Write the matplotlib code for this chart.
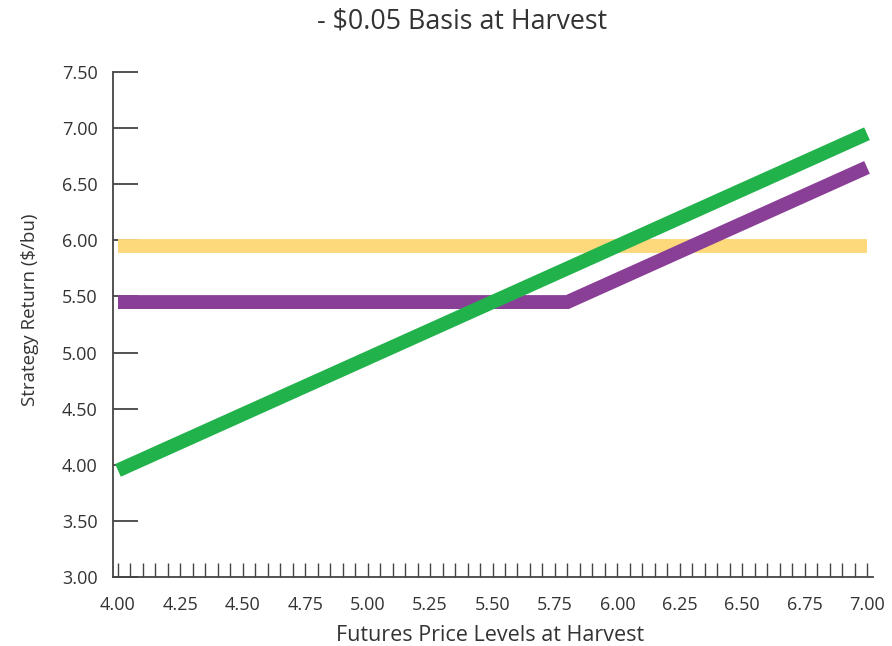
import matplotlib
matplotlib.use("Agg")
import matplotlib.pyplot as plt
from matplotlib.ticker import MultipleLocator

plt.rcParams['font.family'] = ['Open Sans', 'DejaVu Sans']

# Data
price = [4.00, 7.00]
green_vals = [3.95, 6.95]
purple_x = [4.00, 5.80, 7.00]
purple_vals = [5.45, 5.45, 6.65]
yellow_x = [4.00, 7.00]
yellow_vals = [5.95, 5.95]
xticks = [4.00, 4.25, 4.50, 4.75, 5.00, 5.25, 5.50, 5.75, 6.00, 6.25, 6.50, 6.75, 7.00]
yticks = [3.00, 3.50, 4.00, 4.50, 5.00, 5.50, 6.00, 6.50, 7.00, 7.50]

W, H = 892, 646
fig = plt.figure(figsize=(W / 100, H / 100), dpi=100)
left, right, top, bottom = 113, 873, 72, 577
ax = fig.add_axes([left / W, (H - bottom) / H, (right - left) / W, (bottom - top) / H])

ax.plot(yellow_x, yellow_vals, color='#fdd97c', lw=10, solid_capstyle='butt', zorder=2)
ax.plot(purple_x, purple_vals, color='#8a3f97', lw=10, solid_capstyle='butt', solid_joinstyle='miter', zorder=3)
ax.plot(price, green_vals, color='#22b24c', lw=10, solid_capstyle='butt', zorder=4)

ax.set_xlim(3.98, 7.024)
ax.set_ylim(3.0, 7.5)
ax.set_xticks(xticks)
ax.set_xticklabels([f"{v:.2f}" for v in xticks])
ax.xaxis.set_minor_locator(MultipleLocator(0.05))
ax.set_yticks(yticks)
ax.set_yticklabels([f"{v:.2f}" for v in yticks])

for s in ['top', 'right']:
    ax.spines[s].set_visible(False)
for s in ['left', 'bottom']:
    ax.spines[s].set_color('#444444')
    ax.spines[s].set_linewidth(1.3)

ax.tick_params(axis='x', which='both', direction='in', length=10, width=1.0, color='#444444',
               labelsize=13, labelcolor='#333333', pad=14)
ax.tick_params(axis='y', which='major', direction='in', length=18, width=1.3, color='#444444',
               labelsize=13, labelcolor='#333333', pad=11)

ax.set_xlabel('Futures Price Levels at Harvest', fontsize=15.5, color='#333333')
ax.xaxis.set_label_coords(0.496, -0.115)
ax.xaxis.label.set_va('center')
ax.set_ylabel('Strategy Return ($/bu)', fontsize=13.5, color='#333333')
ax.yaxis.set_label_coords(-0.109, 0.529)
ax.yaxis.label.set_va('center')
fig.text(462 / W, 1 - 21 / H, '- $0.05 Basis at Harvest', fontsize=19.3, color='#333333',
         ha='center', va='center')

fig.savefig('out.png', dpi=100, facecolor='white')
